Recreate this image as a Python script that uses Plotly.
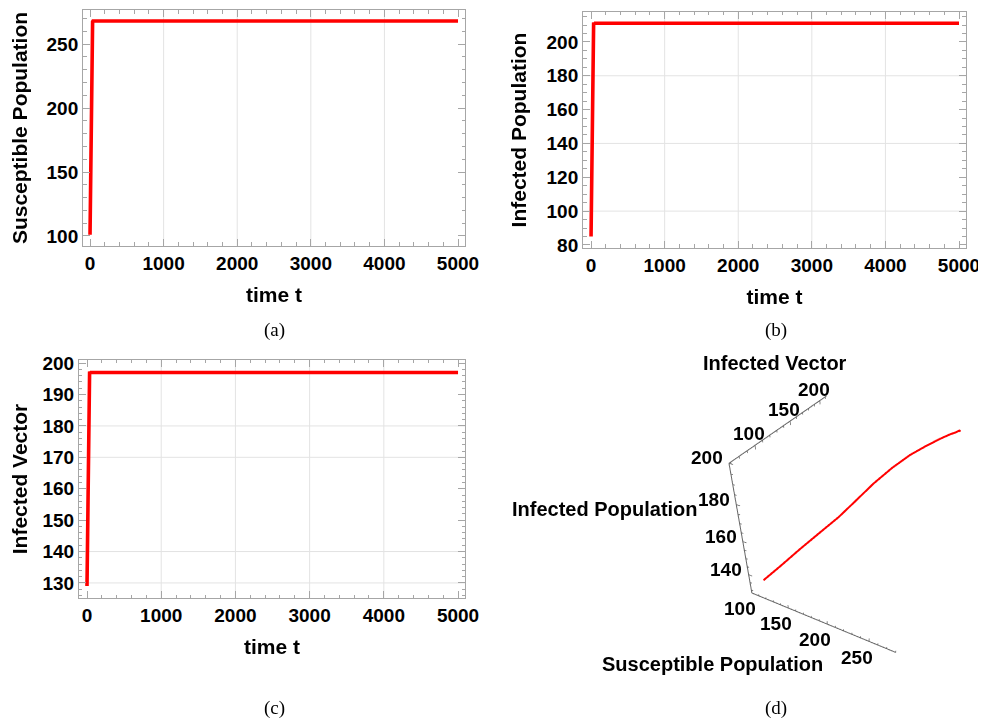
import plotly.graph_objects as go

# ---- data ----
t_vals = [0, 2.5, 5, 7.5, 10, 12.5, 15, 17.5, 20, 22.5, 25, 27.5, 30, 35, 40, 50, 100, 5000]
S_vals = [101, 116.0, 131.9, 148.6, 165.3, 179.5, 192.9, 207.9, 222.9, 237.9, 250.5, 258.8,
          263.8, 267.5, 268, 268, 268, 268]
I_vals = [85, 97.6, 111.5, 125.3, 139.2, 153.0, 166.3, 178.9, 189.6, 197.8, 204.1, 207.9,
          209.7, 211.5, 211, 211, 211, 211]
V_vals = [129, 135.8, 143.3, 150.8, 158.2, 165.7, 172.9, 179.7, 185.4, 189.9, 193.3, 195.3,
          196.3, 197.3, 197, 197, 197, 197]

x_ticks = [0, 1000, 2000, 3000, 4000, 5000]
x_grid = [1000, 2000, 3000, 4000]
a_yticks = [100, 150, 200, 250]
b_yticks = [80, 100, 120, 140, 160, 180, 200]
b_ygrid = [100, 140, 180]
c_yticks = [130, 140, 150, 160, 170, 180, 190, 200]
c_ygrid = [130, 140, 170, 180]

# 3D panel axes
S3_range = [100, 280]
I3_range = [68, 212]
V3_range = [128, 200]
S3_ticks = [100, 150, 200, 250]
I3_ticks = [100, 150, 200]
V3_ticks = [140, 160, 180, 200]
S3_minor = list(range(100, 281, 10))
I3_minor = list(range(70, 211, 10))
V3_minor = list(range(130, 201, 5))

captions = ["(a)", "(b)", "(c)", "(d)"]

RED = "#ff0000"
FRAME = "#a6a6a6"
GRID = "#e3e3e3"
AXIS3D = "#666666"
FAM = "Liberation Sans, Arial, sans-serif"
TICKF = dict(family=FAM, size=19, color="black", weight="bold")
TITLEF = dict(family=FAM, size=21, color="black", weight="bold")
TITLEF3 = dict(family=FAM, size=20, color="black", weight="bold")

fig = go.Figure()
for ax in ["", "2", "3"]:
    yv = {"": S_vals, "2": I_vals, "3": V_vals}[ax]
    fig.add_trace(go.Scatter(x=t_vals, y=yv, mode="lines",
                             line=dict(color=RED, width=3.6),
                             xaxis="x" + ax, yaxis="y" + ax, showlegend=False,
                             hoverinfo="skip"))

# ---- 3D panel: axis lines on the Mathematica-style edges ----
x0, x1 = S3_range
y0, y1 = I3_range
z0, z1 = V3_range
ax_x = [x0, x1, None, x0, x0, None, x0, x0]
ax_y = [y0, y0, None, y0, y0, None, y0, y1]
ax_z = [z0, z0, None, z0, z1, None, z1, z1]
fig.add_trace(go.Scatter3d(x=ax_x, y=ax_y, z=ax_z, mode="lines",
                           line=dict(color=AXIS3D, width=2), showlegend=False,
                           hoverinfo="skip", scene="scene"))

# tick marks
tx, ty, tz = [], [], []
for v in S3_minor:
    ln = 2.0 if v in S3_ticks else 1.1
    tx += [v, v, None]; ty += [y0, y0, None]; tz += [z0, z0 + ln, None]
for v in V3_minor:
    ln = 4.8 if v in V3_ticks else 2.6
    tx += [x0, x0 + ln, None]; ty += [y0, y0, None]; tz += [v, v, None]
for v in I3_minor:
    ln = 2.0 if v in I3_ticks else 1.1
    tx += [x0, x0, None]; ty += [v, v, None]; tz += [z1, z1 - ln, None]
fig.add_trace(go.Scatter3d(x=tx, y=ty, z=tz, mode="lines",
                           line=dict(color=AXIS3D, width=1.5), showlegend=False,
                           hoverinfo="skip", scene="scene"))

# 3D trajectory
fig.add_trace(go.Scatter3d(x=S_vals, y=I_vals, z=V_vals, mode="lines",
                           line=dict(color=RED, width=4), showlegend=False,
                           hoverinfo="skip", scene="scene"))

# scene ranges padded slightly so the edge lines are not clipped
pad = 0.015
sx = [x0 - pad * (x1 - x0), x1 + pad * (x1 - x0)]
sy = [y0 - pad * (y1 - y0), y1 + pad * (y1 - y0)]
sz = [z0 - pad * (z1 - z0), z1 + pad * (z1 - z0)]


def b(s):
    return "<b>" + s + "</b>"


annos3d = []
for v in S3_ticks:
    annos3d.append(dict(x=v, y=y0, z=z0, text=b(str(v)), showarrow=False, font=TICKF,
                        xanchor="center", yanchor="middle", xshift=-12, yshift=-16))
for v in V3_ticks:
    annos3d.append(dict(x=x0, y=y0, z=v, text=b(str(v)), showarrow=False, font=TICKF,
                        xanchor="right", yanchor="middle", xshift=-4, yshift=5))
for v in I3_ticks:
    annos3d.append(dict(x=x0, y=v, z=z1, text=b(str(v)), showarrow=False, font=TICKF,
                        xanchor="right", yanchor="middle", xshift=12, yshift=11))
annos3d.append(dict(x=(x0 + x1) / 2, y=y0, z=z0, text=b("Susceptible Population"), showarrow=False,
                    font=TITLEF3, xanchor="center", yanchor="middle", xshift=-107, yshift=-43))
annos3d.append(dict(x=x0, y=y0, z=(z0 + z1) / 2, text=b("Infected Population"), showarrow=False,
                    font=TITLEF3, xanchor="right", yanchor="middle", xshift=-41, yshift=25))
annos3d.append(dict(x=x0, y=y1, z=z1, text=b("Infected Vector"), showarrow=False,
                    font=TITLEF3, xanchor="center", yanchor="middle", xshift=-51, yshift=33))


def xaxis_cfg(domain, rng, anchor):
    return dict(domain=domain, range=rng, anchor=anchor, tickvals=x_ticks, automargin=False,
                showline=True, linecolor=FRAME, linewidth=1, mirror="allticks",
                ticks="inside", ticklen=7, tickcolor=FRAME,
                minor=dict(ticks="inside", dtick=200, ticklen=3.5, tickcolor=FRAME),
                showgrid=False, zeroline=False, tickfont=TICKF,
                title=dict(text="time t", font=TITLEF, standoff=14))


def yaxis_cfg(domain, rng, anchor, ticks, minor_dtick, title):
    return dict(domain=domain, range=rng, anchor=anchor, tickvals=ticks, automargin=False,
                showline=True, linecolor=FRAME, linewidth=1, mirror="allticks",
                ticks="inside", ticklen=7, tickcolor=FRAME,
                minor=dict(ticks="inside", dtick=minor_dtick, ticklen=3.5, tickcolor=FRAME),
                showgrid=False, zeroline=False, tickfont=TICKF,
                title=dict(text=title, font=TITLEF, standoff=14))


eye = (1.106, -2.115, 1.734)

fig.update_layout(
    width=986, height=722,
    margin=dict(l=0, r=0, t=0, b=0),
    paper_bgcolor="white", plot_bgcolor="white",
    xaxis=xaxis_cfg([0.0761, 0.4635], [-95, 5095], "y"),
    yaxis=yaxis_cfg([0.6704, 0.9972], [92.2, 276.6], "x", a_yticks, 10, "Susceptible Population"),
    xaxis2=xaxis_cfg([0.5832, 0.9716], [-109, 5095], "y2"),
    yaxis2=yaxis_cfg([0.6676, 0.9945], [78.2, 217.7], "x2", b_yticks, 5, "Infected Population"),
    xaxis3=xaxis_cfg([0.0720, 0.4635], [-108, 5094], "y3"),
    yaxis3=yaxis_cfg([0.1828, 0.5125], [125.2, 201], "x3", c_yticks, 2, "Infected Vector"),
    scene=dict(
        domain=dict(x=[0.726, 0.998], y=[0.017, 0.585]),
        aspectmode="manual",
        aspectratio=dict(x=1, y=1, z=0.95),
        camera=dict(eye=dict(x=eye[0], y=eye[1], z=eye[2]),
                    center=dict(x=0, y=0, z=0),
                    up=dict(x=0, y=0, z=1),
                    projection=dict(type="perspective")),
        xaxis=dict(range=sx, visible=False),
        yaxis=dict(range=sy, visible=False),
        zaxis=dict(range=sz, visible=False),
        annotations=annos3d,
    ),
)

# gridlines (light grey) drawn through the axes' own coordinates
shapes = []
for xr, yr, ygrid in [("x", "y", []), ("x2", "y2", b_ygrid), ("x3", "y3", c_ygrid)]:
    for gx in x_grid:
        shapes.append(dict(type="line", xref=xr, yref=yr + " domain", x0=gx, x1=gx, y0=0, y1=1,
                           line=dict(color=GRID, width=1), layer="below"))
    for gy in ygrid:
        shapes.append(dict(type="line", xref=xr + " domain", yref=yr, x0=0, x1=1, y0=gy, y1=gy,
                           line=dict(color=GRID, width=1), layer="below"))
fig.update_layout(shapes=shapes)

# captions
cap_pos = [(0.2698, 0.554), (0.7789, 0.554), (0.2698, 0.0305), (0.7789, 0.0305)]
for txt, (cx, cy) in zip(captions, cap_pos):
    fig.add_annotation(text=txt, x=cx, y=cy, xref="paper", yref="paper", showarrow=False,
                       xanchor="center", yanchor="middle",
                       font=dict(family="Liberation Serif, Times New Roman, serif", size=19, color="black"))

fig.write_html("out.html")
